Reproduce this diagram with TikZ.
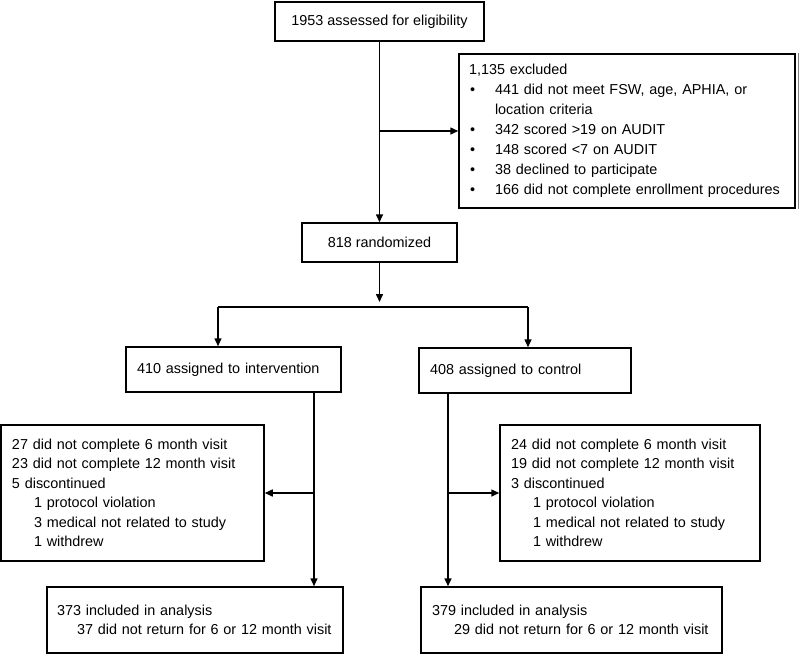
\documentclass[tikz,border=0pt]{standalone}
\usepackage{fontspec}
\setmainfont{Liberation Sans}
\usetikzlibrary{arrows.meta}

\newcommand{\bul}{\makebox[26pt][l]{\hspace*{1pt}\textbullet}}
\newcommand{\ind}{\hspace*{22pt}}

\begin{document}
\begin{tikzpicture}[x=1pt,y=-1pt,>={Triangle[length=8pt,width=7pt]},
	box/.style={draw, line width=1.5pt, rectangle, align=left, inner ysep=0pt, font=\fontsize{14.4}{19.5}\selectfont},
	link/.style={line width=1.5pt}]
	\useasboundingbox (0,0) rectangle (800,657);

	\node[box, align=center, inner xsep=0pt, minimum width=209, minimum height=39] (elig) at (379.5,21.5) {1953 assessed for eligibility};
	\node[box, inner xsep=10pt, text width=316pt, minimum height=154, font=\fontsize{14.4}{20}\selectfont] (excl) at (627,131) {1,135 excluded\\
		\bul 441 did not meet FSW, age, APHIA, or\\
		\hspace*{26pt}location criteria\\
		\bul 342 scored >19 on AUDIT\\
		\bul 148 scored <7 on AUDIT\\
		\bul 38 declined to participate\\
		\bul 166 did not complete enrollment procedures};
	\node[box, align=center, inner xsep=0pt, minimum width=155, minimum height=39] (rand) at (379.5,242.5) {818 randomized};

	\node[box, inner xsep=11pt, text width=193pt, minimum height=45] (int) at (233.5,369.5) {410 assigned to intervention};
	\node[box, inner xsep=11pt, text width=190pt, minimum height=45] (ctrl) at (525,370.5) {408 assigned to control};

	\node[box, inner xsep=11pt, text width=241pt, minimum height=136] (disc1) at (132.5,493) {27 did not complete 6 month visit\\
		23 did not complete 12 month visit\\
		5 discontinued\\
		\ind 1 protocol violation\\
		\ind 3 medical not related to study\\
		\ind 1 withdrew};
	\node[box, inner xsep=11pt, text width=238pt, minimum height=136] (disc2) at (630,493) {24 did not complete 6 month visit\\
		19 did not complete 12 month visit\\
		3 discontinued\\
		\ind 1 protocol violation\\
		\ind 1 medical not related to study\\
		\ind 1 withdrew};

	\node[box, inner xsep=10pt, text width=276pt, minimum height=66] (res1) at (195,620) {373 included in analysis\\
		\hspace*{20pt}37 did not return for 6 or 12 month visit};
	\node[box, inner xsep=11pt, text width=279pt, minimum height=66] (res2) at (571.5,620) {379 included in analysis\\
		\ind 29 did not return for 6 or 12 month visit};

	\draw[gray, line width=0.8pt] ([xshift=3]excl.north east) -- ([xshift=3]excl.south east);

	\coordinate (lefttop) at (218,307);
	\coordinate (righttop) at (528,307);
	\coordinate (intdrop) at (314,392);
	\coordinate (ctrldrop) at (448,393);

	\draw[link,->] (elig) -- (rand);
	\draw[link,->] (elig.south |- excl.west) -- (excl.west);
	\draw[link,->,shorten >=5pt] (rand) -- (rand.south |- lefttop);
	\draw[link] (lefttop) -- (righttop);
	\draw[link,->] (lefttop) -- (lefttop |- int.north);
	\draw[link,->] (righttop) -- (righttop |- ctrl.north);

	\draw[link,->] (intdrop) -- (intdrop |- res1.north);
	\draw[link,->] (intdrop |- disc1.east) -- (disc1.east);
	\draw[link,->] (ctrldrop) -- (ctrldrop |- res2.north);
	\draw[link,->] (ctrldrop |- disc2.west) -- (disc2.west);
\end{tikzpicture}
\end{document}
